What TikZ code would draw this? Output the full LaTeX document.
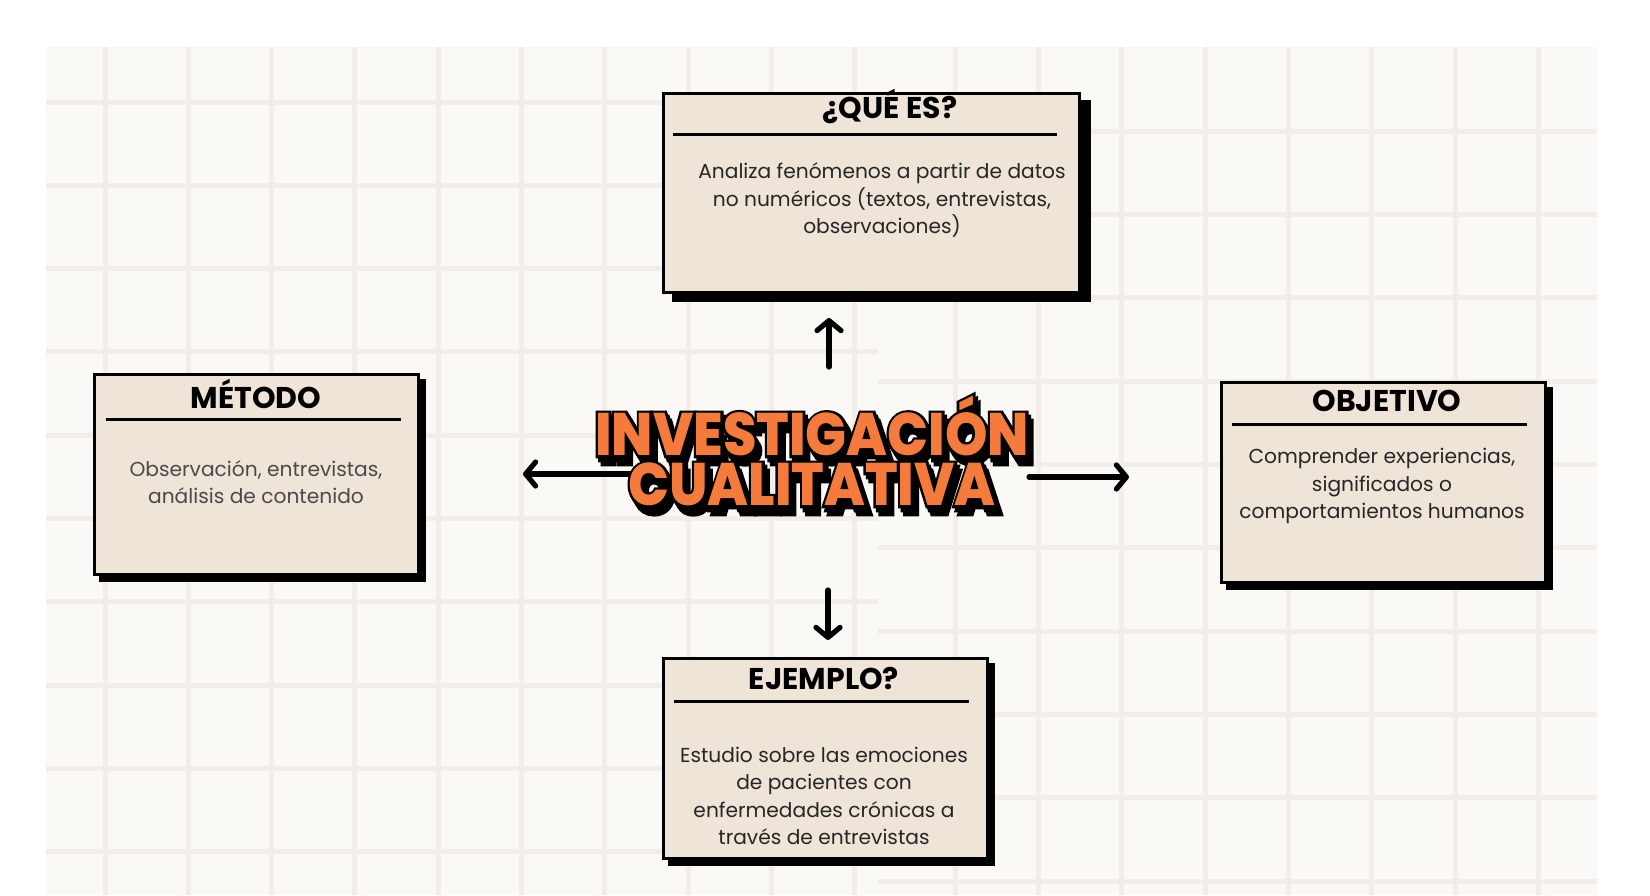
\documentclass[tikz,border=0pt]{standalone}
\usepackage{fontspec}
\setmainfont{Poppins}
\IfFontExistsTF{Poppins ExtraBold}
  {\newfontfamily\titlefont{Poppins ExtraBold}[FakeStretch=0.9]
   \newfontfamily\titlefontO{Poppins ExtraBold}[FakeStretch=0.9,FakeBold=9]}
  {\newfontfamily\titlefont{Poppins}[FakeStretch=0.9]
   \newfontfamily\titlefontO{Poppins}[FakeStretch=0.9,FakeBold=9]}
\usetikzlibrary{arrows.meta}
\definecolor{bgc}{HTML}{FAF9F6}
\definecolor{gridc}{HTML}{F1EEEA}
\definecolor{boxc}{HTML}{EFE4D8}
\definecolor{orng}{HTML}{F47B3C}
\definecolor{txt}{HTML}{262626}
\definecolor{txtl}{HTML}{4A4A4A}
\pgfdeclarelayer{grid}
\pgfdeclarelayer{shadow}
\pgfsetlayers{grid,shadow,main}
\tikzset{
  box/.style={draw=black, line width=1.5pt, fill=boxc, rectangle, inner sep=0pt, anchor=north west},
  hd/.style={font=\bfseries\fontsize{15}{17}\selectfont, text=black, anchor=base, inner sep=0pt},
  bd/.style={font=\fontsize{10.1}{13.75}\selectfont, text=txt, align=center, inner sep=0pt},
  rulel/.style={line width=1.5pt, black},
  gridl/.style={line width=2.5pt, gridc},
  arr/.style={line width=2.6pt, line cap=round, -{Straight Barb[length=5pt,width=12pt,round]}},
  tstyle/.style={font=\titlefont\fontsize{30}{25}\selectfont, align=center, inner sep=0pt},
  tstyleO/.style={font=\titlefontO\fontsize{30}{25}\selectfont, align=center, inner sep=0pt, text=black}
}
\newcommand\ttltext{INVESTIGACIÓN\\CUALITATIVA}
\begin{document}
\begin{tikzpicture}[x=0.5pt,y=-0.5pt]
\useasboundingbox (0,0) rectangle (1650,895);
\begin{pgfonlayer}{grid}
  \fill[white] (0,0) rectangle (1650,895);
  \fill[bgc] (46,47) rectangle (1597,895);
  \begin{scope}
    \clip (46,47) rectangle (878,895);
    \foreach \i in {0,...,9} \draw[gridl] ({105+83.33*\i},47) -- ({105+83.33*\i},895);
    \foreach \j in {0,...,9} \draw[gridl] (46,{102+83.33*\j}) -- (878,{102+83.33*\j});
  \end{scope}
  \begin{scope}
    \clip (878,47) rectangle (1597,895);
    \foreach \i in {-4,...,4} \draw[gridl] ({1205+83.33*\i},47) -- ({1205+83.33*\i},895);
    \foreach \j in {1,...,10} \draw[gridl] (878,{48+83.33*\j}) -- (1597,{48+83.33*\j});
  \end{scope}
\end{pgfonlayer}

% boxes
\node[box, minimum width=208pt, minimum height=99.5pt] (q) at (662,92) {};
\node[box, minimum width=162pt, minimum height=100pt] (m) at (93,373) {};
\node[box, minimum width=162pt, minimum height=100pt] (o) at (1220,381) {};
\node[box, minimum width=162pt, minimum height=100pt] (e) at (662,657) {};

\begin{pgfonlayer}{shadow}
  \fill[black] ([shift={(10,8)}]q.north west) rectangle ([shift={(10,8)}]q.south east);
  \fill[black] ([shift={(6,6)}]m.north west) rectangle ([shift={(6,6)}]m.south east);
  \fill[black] ([shift={(6,6)}]o.north west) rectangle ([shift={(6,6)}]o.south east);
  \fill[black] ([shift={(6,6)}]e.north west) rectangle ([shift={(6,6)}]e.south east);
\end{pgfonlayer}

% headers and rules
\node[hd] (qh) at (890,118) {¿QUÉ ES?};
\draw[rulel] (673,134) -- (1057,134);
\node[hd] (mh) at (256,408) {MÉTODO};
\draw[rulel] (106,419) -- (401,419);
\node[hd] (oh) at (1387,411) {OBJETIVO};
\draw[rulel] (1232,424) -- (1527,424);
\node[hd] (eh) at (824,689) {EJEMPLO?};
\draw[rulel] (674,701) -- (969,701);

% bodies
\node[bd] (qb) at (882,200) {Analiza fenómenos a partir de datos\\no numéricos (textos, entrevistas,\\observaciones)};
\node[bd, text=txtl] (mb) at (256,482) {Observación, entrevistas,\\análisis de contenido};
\node[bd] (ob) at (1382,486) {Comprender experiencias,\\significados o\\comportamientos humanos};
\node[bd] (eb) at (824,796) {Estudio sobre las emociones\\de pacientes con\\enfermedades crónicas a\\través de entrevistas};

% arrows
\coordinate (uS) at (829,367); \coordinate (uE) at (829,318);
\coordinate (dS) at (828,590); \coordinate (dE) at (828,640);
\coordinate (lS) at (640,474); \coordinate (lE) at (523,474);
\coordinate (rS) at (1029,477); \coordinate (rE) at (1129,477);
\draw[arr] (uS) -- (uE);
\draw[arr] (dS) -- (dE);
\draw[arr] (lS) -- (lE);
\draw[arr] (rS) -- (rE);

% title: drop shadow, outline, orange fill
\node[tstyleO] (tsh2) at (817,459) {\ttltext};
\node[tstyleO] (tsh1) at (814.5,455) {\ttltext};
\node[tstyleO] (tol) at (812,451) {\ttltext};
\node[tstyle, text=orng] (title) at (812,451) {\ttltext};
\end{tikzpicture}
\end{document}
